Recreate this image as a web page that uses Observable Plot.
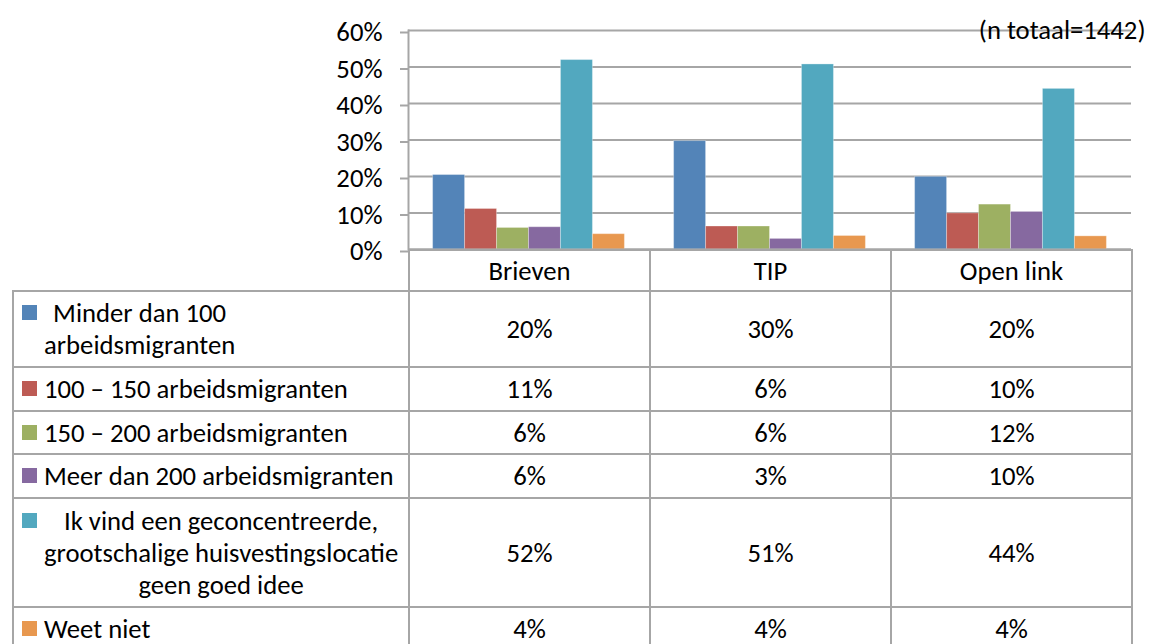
<!DOCTYPE html>
<html><head><meta charset="utf-8">
<script src="https://cdn.jsdelivr.net/npm/d3@7"></script>
<script src="https://cdn.jsdelivr.net/npm/@observablehq/plot@0.6"></script>
<style>
html,body{margin:0;padding:0;background:#fff;}
#wrap{position:relative;width:1149px;height:644px;overflow:hidden;color:#000;}
#chart{position:absolute;left:0;top:0;}
#tbl{position:absolute;left:12px;top:249px;border-collapse:collapse;table-layout:fixed;}
#tbl td{border:2px solid #a6a6a6;padding:0;text-align:center;vertical-align:middle;white-space:nowrap;}
#tbl td.blank{border-top:none;border-left:none;}
.legwrap{display:flex;align-items:flex-start;padding-left:8px;text-align:left;}
.sw{width:15px;height:15px;flex:none;margin-top:8px;margin-right:7px;}
.lt{text-align:center;line-height:32px;white-space:pre;}
</style></head>
<body><div id="wrap"><div id="chart"></div></div>
<script>
const categories = ["Brieven", "TIP", "Open link"];
const series = [
  "Minder dan 100\narbeidsmigranten",
  "100 – 150 arbeidsmigranten",
  "150 – 200 arbeidsmigranten",
  "Meer dan 200 arbeidsmigranten",
  "Ik vind een geconcentreerde,\ngrootschalige huisvestingslocatie\ngeen goed idee",
  "Weet niet"
];
const colors = ["#5384B8", "#BD5B54", "#9DB062", "#8669A0", "#52A8BF", "#E8984F"];
// values per series, in category order (Brieven, TIP, Open link)
const minder100 = [20.4, 29.7, 19.9];
const r100_150 = [11.1, 6.3, 9.9];
const r150_200 = [5.9, 6.3, 12.3];
const meer200 = [6.1, 2.9, 10.3];
const geenGoedIdee = [51.9, 50.7, 44.0];
const weetNiet = [4.2, 3.7, 3.6];
const yTicks = [0, 10, 20, 30, 40, 50, 60];
const note = "(n totaal=1442)";

const seriesValues = [minder100, r100_150, r150_200, meer200, geenGoedIdee, weetNiet];
const rows = categories.flatMap((c, ci) => series.map((s, si) => ({cat: c, series: s, value: seriesValues[si][ci]})));

const fontFamily = "Carlito, Calibri, Lato, 'Open Sans', sans-serif";
// size the substitute font so that text widths match the reference
const ctx = document.createElement("canvas").getContext("2d");
ctx.font = "100px " + fontFamily;
const fs = Math.round(349 * 100 / ctx.measureText("Meer dan 200 arbeidsmigranten").width * 10) / 10;
document.getElementById("wrap").style.fontFamily = fontFamily;

const chart = Plot.plot({
  width: 1149, height: 250,
  marginLeft: 408, marginRight: 18, marginTop: 30, marginBottom: 1,
  style: {fontFamily, fontSize: fs + "px", color: "black", background: "white", overflow: "visible"},
  fx: {domain: categories, padding: 0, axis: null, round: false},
  x: {domain: series, paddingInner: 0, paddingOuter: 0.77, axis: null, round: false},
  y: {domain: [0, 60]},
  color: {domain: series, range: colors},
  marks: [
    Plot.ruleY(yTicks, {stroke: "#a6a6a6", strokeWidth: 2}),
    Plot.barY(rows, {fx: "cat", x: "series", y: "value", fill: "series", inset: 0, stroke: "#fff", strokeOpacity: 0.3, strokeWidth: 1}),
    Plot.ruleY([0], {stroke: "#a6a6a6", strokeWidth: 2}),
    Plot.axisY({ticks: yTicks, tickFormat: d => d + "%", tickSize: 8, tickPadding: 18, stroke: "#a6a6a6", strokeWidth: 2, fill: "black", fontSize: fs, label: null, dy: 2}),
    Plot.frame({anchor: "left", stroke: "#a6a6a6", strokeWidth: 2, facet: "super"}),
    Plot.text([note], {frameAnchor: "top-right", facet: "super", dx: 14, textAnchor: "end", lineAnchor: "middle", fontSize: fs, fill: "black"})
  ]
});
document.getElementById("chart").appendChild(chart);

// data table below the chart
const rowHeights = [76, 44, 43, 44, 109, 44];
const tbl = document.createElement("table");
tbl.id = "tbl";
tbl.style.fontSize = fs + "px";
const colgroup = document.createElement("colgroup");
[396, 241, 241, 241].forEach(w => { const c = document.createElement("col"); c.style.width = w + "px"; colgroup.appendChild(c); });
tbl.appendChild(colgroup);
tbl.style.width = "1119px";
const head = document.createElement("tr");
head.style.height = "41px";
const blank = document.createElement("td"); blank.className = "blank"; head.appendChild(blank);
categories.forEach(c => { const td = document.createElement("td"); td.textContent = c; head.appendChild(td); });
tbl.appendChild(head);
series.forEach((s, si) => {
  const tr = document.createElement("tr");
  tr.style.height = rowHeights[si] + "px";
  const lg = document.createElement("td");
  const wrap = document.createElement("div"); wrap.className = "legwrap";
  const sw = document.createElement("span"); sw.className = "sw"; sw.style.background = colors[si];
  const lt = document.createElement("span"); lt.className = "lt"; lt.textContent = s;
  wrap.appendChild(sw); wrap.appendChild(lt); lg.appendChild(wrap); tr.appendChild(lg);
  categories.forEach((c, ci) => { const td = document.createElement("td"); td.textContent = Math.round(seriesValues[si][ci]) + "%"; tr.appendChild(td); });
  tbl.appendChild(tr);
});
document.getElementById("wrap").appendChild(tbl);
</script>
</body></html>
